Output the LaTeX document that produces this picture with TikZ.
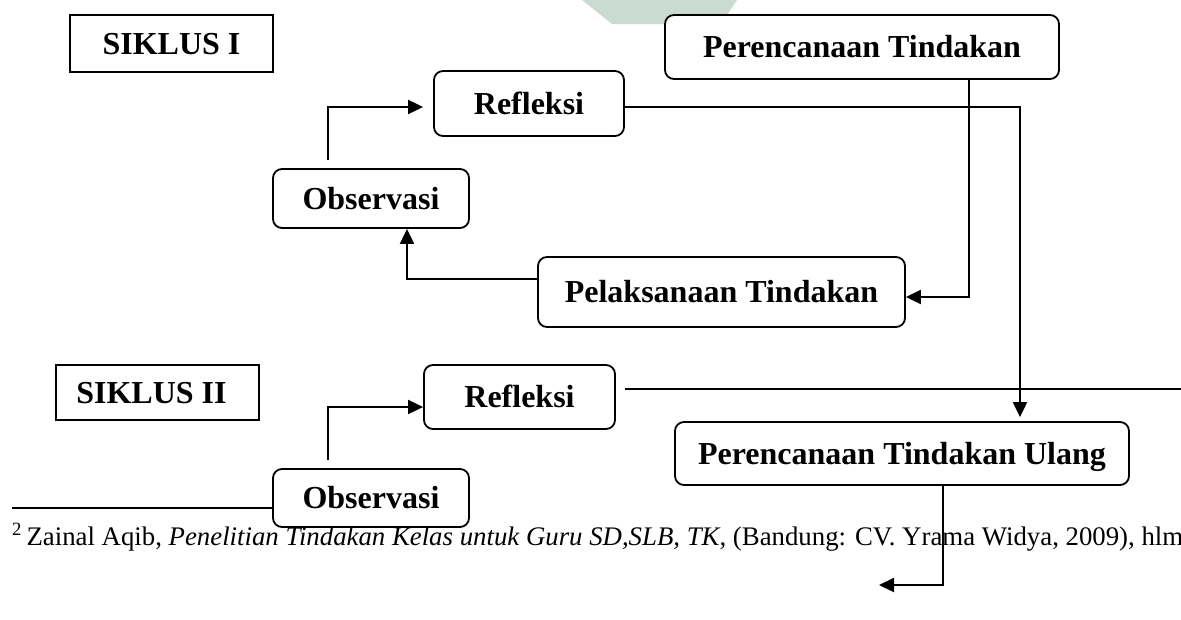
\documentclass[tikz,border=0pt]{standalone}
\usepackage{fontspec}
\setmainfont{Liberation Serif}
\usetikzlibrary{arrows.meta,calc}
\definecolor{wm}{HTML}{CADCD2}
\tikzset{
  box/.style={draw=black, line width=1.8pt, fill=white, inner sep=0pt,
    font=\fontsize{32}{38}\selectfont\bfseries, text height=21.2pt, text depth=0pt},
  sqbox/.style={box},
  rbox/.style={box, rounded corners=9pt},
  conn/.style={line width=1.9pt},
  arr/.style={conn, -{Triangle[length=15pt,width=14pt]}},
}
\begin{document}
\begin{tikzpicture}[x=1pt,y=-1pt]
\useasboundingbox[fill=white] (0,0) rectangle (1181,619);
% watermark fragment
\fill[wm] (582,0) -- (737,0) -- (721,24) -- (612,24) -- cycle;

% footnote rule
\coordinate (r0) at (12,508);
\draw[line width=2pt] (r0) -- (273,508);

% nodes
\node[sqbox, minimum width=203pt, minimum height=57pt] (s1) at (171.5,43.5) {SIKLUS I};
\node[rbox, minimum width=190pt, minimum height=65pt] (ref1) at (529,103.5) {Refleksi};
\node[rbox, minimum width=196pt, minimum height=59pt] (obs1) at (371,198.5) {Observasi};
\node[rbox, minimum width=394pt, minimum height=64pt] (per1) at (862,47) {Perencanaan Tindakan};
\node[rbox, minimum width=367pt, minimum height=70pt] (pel) at (721.5,292) {Pelaksanaan Tindakan};
\node[sqbox, minimum width=203pt, minimum height=55pt] (s2) at (157.5,392.5) {\hspace*{-12pt}SIKLUS II};
\node[rbox, minimum width=191pt, minimum height=64pt] (ref2) at (519.5,397) {Refleksi};
\node[rbox, minimum width=196pt, minimum height=58pt] (obs2) at (371,498) {Observasi};
\node[rbox, minimum width=454pt, minimum height=63pt] (ptu) at (902,453.5) {Perencanaan Tindakan Ulang};

% connectors
\coordinate (c1) at (328,160);
\draw[arr] (c1) |- ([xshift=-10pt,yshift=-3.5pt]ref1.west);
\draw[arr] ([yshift=13pt]pel.west) -| ([xshift=36pt]obs1.south);
\draw[arr] ([xshift=107pt]per1.south) |- ([yshift=-5pt]pel.east);
\draw[arr] ([yshift=-3.5pt]ref1.east) -| ([xshift=118pt,yshift=4pt]ptu.north);
\coordinate (c2) at (328,460);
\draw[arr] (c2) |- ([yshift=-10pt]ref2.west);
\coordinate (e2) at (1181,389);
\draw[conn] ([xshift=9pt,yshift=8pt]ref2.east) -- (e2);
\coordinate (e3) at (879,585);
\draw[arr] ([xshift=41pt]ptu.south) |- (e3);

% footnote text
\node[anchor=base west, inner sep=0pt, font=\fontsize{26.8}{30}\selectfont] (fn) at (12,545)
  {\textsuperscript{2}\,Zainal Aqib, \textit{Penelitian Tindakan Kelas untuk Guru SD,SLB, TK}, (Bandung: CV. Yrama Widya, 2009), hlm};
\end{tikzpicture}
\end{document}
